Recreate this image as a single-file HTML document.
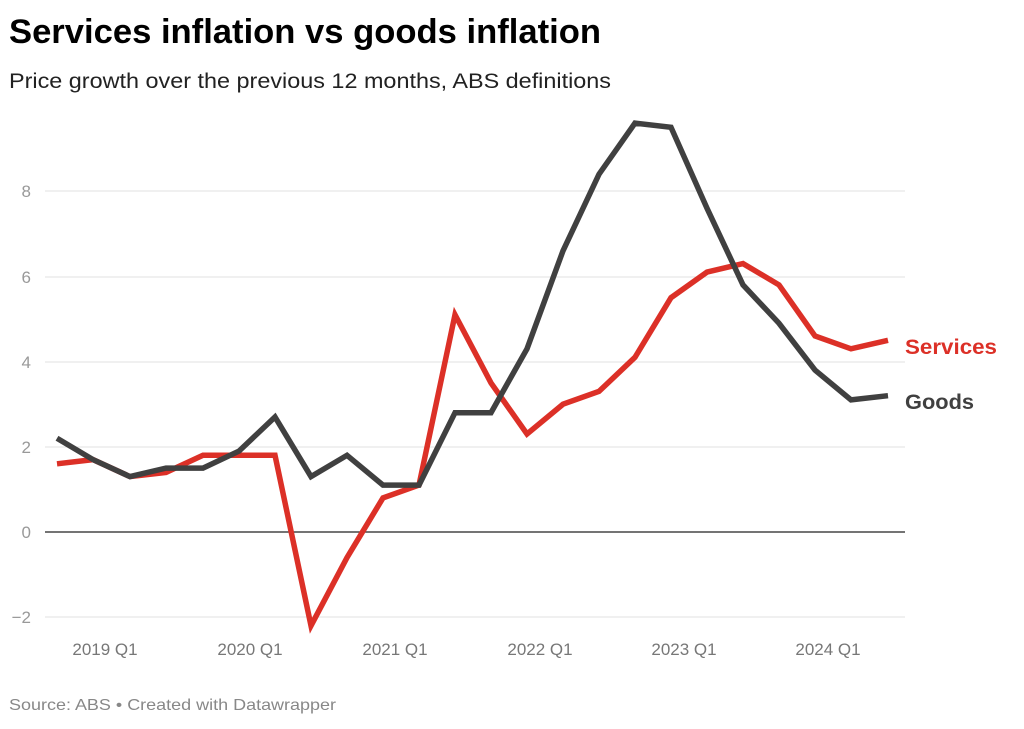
<!DOCTYPE html>
<html><head><style>
body{margin:0;background:#fff;}
svg text{font-family:"Liberation Sans",Arial,sans-serif;}
</style></head><body>
<svg width="1024" height="724" xmlns="http://www.w3.org/2000/svg">
<rect width="1024" height="724" fill="#fff"/>
<text x="9" y="43" font-size="34" font-weight="bold" fill="#000" textLength="592" lengthAdjust="spacingAndGlyphs">Services inflation vs goods inflation</text>
<text x="9" y="88" font-size="21" fill="#222" textLength="602" lengthAdjust="spacingAndGlyphs">Price growth over the previous 12 months, ABS definitions</text>
<g stroke="#e2e2e2" stroke-width="1">
<line x1="45" x2="905" y1="191" y2="191"/>
<line x1="45" x2="905" y1="277" y2="277"/>
<line x1="45" x2="905" y1="362" y2="362"/>
<line x1="45" x2="905" y1="447" y2="447"/>
<line x1="45" x2="905" y1="617" y2="617"/>
</g>
<line x1="45" x2="905" y1="532" y2="532" stroke="#222" stroke-width="1.2"/>
<g font-size="17" fill="#999" text-anchor="end">
<text x="31" y="197">8</text><text x="31" y="283">6</text><text x="31" y="368">4</text>
<text x="31" y="453">2</text><text x="31" y="538">0</text><text x="31" y="623">−2</text>
</g>
<g font-size="17" fill="#777" text-anchor="middle">
<text x="105" y="655">2019 Q1</text><text x="250" y="655">2020 Q1</text><text x="395" y="655">2021 Q1</text>
<text x="540" y="655">2022 Q1</text><text x="684" y="655">2023 Q1</text><text x="828" y="655">2024 Q1</text>
</g>
<polyline fill="none" stroke="#dc3027" stroke-width="5.5" points="57,463.8 93,459.6 130,476.6 166,472.4 203,455.3 239,455.3 275,455.3 311,625.7 347,557.6 383,497.9 419,485.1 455,314.7 491,382.9 527,434 563,404.2 599,391.4 635,357.3 671,297.7 707,272.1 743,263.6 779,284.9 815,336 851,348.8 888,340.3"/>
<polyline fill="none" stroke="#404040" stroke-width="5.5" points="57,438.3 93,459.6 130,476.6 166,468.1 203,468.1 239,451.1 275,417 311,476.6 347,455.3 383,485.1 419,485.1 455,412.7 491,412.7 527,348.8 563,250.8 599,174.2 635,123.1 671,127.3 707,208.2 743,284.9 779,323.3 815,370.1 851,399.9 888,395.7"/>
<text x="905" y="354" font-size="21" font-weight="bold" fill="#dc3027" textLength="92" lengthAdjust="spacingAndGlyphs">Services</text>
<text x="905" y="409" font-size="21" font-weight="bold" fill="#404040" textLength="69" lengthAdjust="spacingAndGlyphs">Goods</text>
<text x="9" y="710" font-size="16" fill="#888" textLength="327" lengthAdjust="spacingAndGlyphs">Source: ABS • Created with Datawrapper</text>
</svg>
</body></html>
